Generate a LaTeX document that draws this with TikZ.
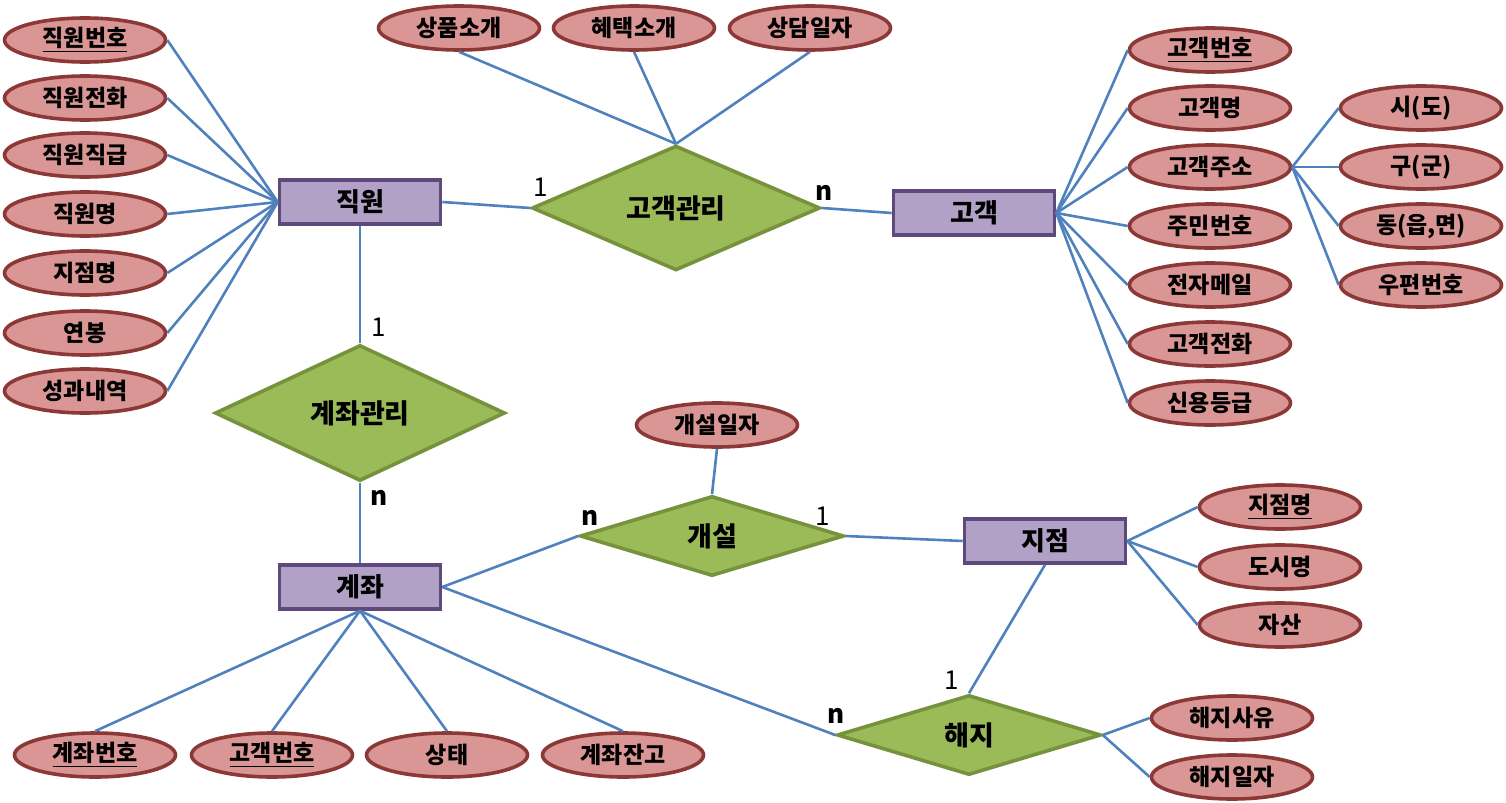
\documentclass[tikz,border=0pt]{standalone}
\usepackage{fontspec}
\setmainfont{Noto Sans CJK KR}
\usetikzlibrary{shapes.geometric}
\definecolor{attrfill}{RGB}{217,150,148}
\definecolor{attrline}{RGB}{140,56,54}
\definecolor{entfill}{RGB}{178,161,199}
\definecolor{entline}{RGB}{94,73,125}
\definecolor{relfill}{RGB}{155,187,89}
\definecolor{relline}{RGB}{118,146,60}
\definecolor{linkc}{RGB}{79,129,189}
\newcommand\pk[1]{\underline{#1}}
\begin{document}
\begin{tikzpicture}[x=0.5pt,y=-0.5pt,
  ent/.style={draw=entline,fill=entfill,line width=1.8pt,minimum width=80.5pt,minimum height=22pt,
    inner sep=0pt,font=\bfseries\fontsize{13}{13}\selectfont},
  rel/.style={diamond,draw=relline,fill=relfill,line width=1.8pt,inner sep=0pt,
    font=\bfseries\fontsize{13.5}{14}\selectfont},
  attr/.style={ellipse,draw=attrline,fill=attrfill,line width=1.8pt,minimum width=80.5pt,minimum height=22pt,
    inner sep=0pt,font=\bfseries\fontsize{11.5}{12}\selectfont},
  link/.style={draw=linkc,line width=1.3pt},
  card/.style={inner sep=0pt,font=\fontsize{13}{13}\selectfont},
  cardn/.style={card,font=\bfseries\fontsize{13}{13}\selectfont}]
\useasboundingbox (0,0) rectangle (1506,803);
% entities
\node[ent] (emp) at (360,202) {직원};
\node[ent] (cust) at (974,213) {고객};
\node[ent] (acct) at (360,587) {계좌};
\node[ent] (br) at (1045,541) {지점};
% relations
\node[rel,minimum width=144pt,minimum height=51pt] (cm) at (676,208) {고객관리};
\node[rel,minimum width=145pt,minimum height=68pt] (am) at (360,413) {계좌관리};
\node[rel,minimum width=132pt,minimum height=40pt] (op) at (712,536) {개설};
\node[rel,minimum width=132pt,minimum height=40pt] (cl) at (969,735) {해지};
% attributes
\foreach \n/\x/\y/\t in {e1/85/40/\pk{직원번호},e2/85/98/직원전화,e3/85/155/직원직급,e4/85/214/직원명,
    e5/85/273/지점명,e6/85/333/연봉,e7/85/391/성과내역,
    t1/459/28/상품소개,t2/634/28/혜택소개,t3/810/28/상담일자,
    c1/1210/50/\pk{고객번호},c2/1210/108/고객명,c3/1210/167/고객주소,c4/1210/226/주민번호,
    c5/1210/285/전자메일,c6/1210/344/고객전화,c7/1210/403/신용등급,
    a1/1421/108/시(도),a2/1421/167/구(군),a3/1421/226/{동(읍,면)},a4/1421/285/우편번호,
    o1/717/425/개설일자,
    b1/1280/507/\pk{지점명},b2/1280/567/도시명,b3/1280/625/자산,
    h1/1232/718/해지사유,h2/1232/777/해지일자,
    k1/95/755/\pk{계좌번호},k2/272/755/\pk{고객번호},k3/447/755/상태,k4/623/755/계좌잔고}
  \node[attr] (\n) at (\x,\y) {\t};
% connectors
\foreach \n in {e1,e2,e3,e4,e5,e6,e7} \draw[link] (\n.east) -- (emp.west);
\foreach \n in {c1,c2,c3,c4,c5,c6,c7} \draw[link] (cust.east) -- (\n.west);
\foreach \n in {a1,a2,a3,a4} \draw[link] (c3.east) -- (\n.west);
\foreach \n in {t1,t2,t3} \draw[link] (\n.south) -- (cm.north);
\foreach \n in {k1,k2,k3,k4} \draw[link] (acct.south) -- (\n.north);
\foreach \n in {b1,b2,b3} \draw[link] (br.east) -- (\n.west);
\foreach \n in {h1,h2} \draw[link] (cl.east) -- (\n.west);
\draw[link] (emp.east) -- (cm.west);
\draw[link] (cm.east) -- (cust.west);
\draw[link] (emp.south) -- (am.north);
\draw[link] (am.south) -- (acct.north);
\draw[link] (acct.east) -- (op.west);
\draw[link] (acct.east) -- (cl.west);
\draw[link] (op.north) -- (o1.south);
\draw[link] (op.east) -- (br.west);
\draw[link] (cl.north) -- (br.south);
% cardinalities
\node[card] (n1) at (541,187) {1};
\node[cardn] (n2) at (824,193) {n};
\node[card] (n3) at (379,327) {1};
\node[cardn] (n4) at (379,498) {n};
\node[cardn] (n5) at (590,518) {n};
\node[card] (n6) at (823,516) {1};
\node[card] (n7) at (952,680) {1};
\node[cardn] (n8) at (836,716) {n};
\end{tikzpicture}
\end{document}
